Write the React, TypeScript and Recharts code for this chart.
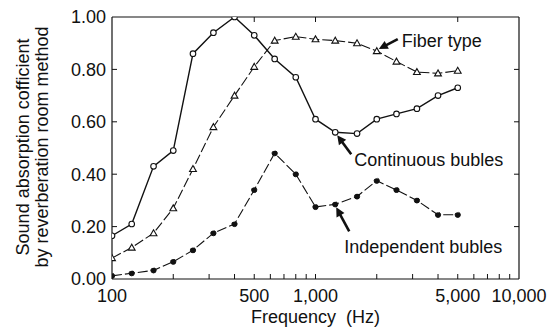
import { LineChart, Line, XAxis, YAxis, ReferenceDot } from "recharts";

// 1/3 octave band centre frequencies (Hz)
const freqs = [100, 125, 160, 200, 250, 315, 400, 500, 630, 800, 1000, 1250, 1600, 2000, 2500, 3150, 4000, 5000];
const continuous = [0.165, 0.21, 0.43, 0.49, 0.86, 0.94, 1.0, 0.93, 0.84, 0.77, 0.61, 0.56, 0.555, 0.61, 0.63, 0.65, 0.7, 0.73];
const fiber = [0.08, 0.12, 0.175, 0.27, 0.42, 0.58, 0.7, 0.81, 0.91, 0.925, 0.915, 0.91, 0.9, 0.87, 0.83, 0.79, 0.785, 0.795];
const independent = [0.012, 0.022, 0.033, 0.066, 0.11, 0.175, 0.21, 0.34, 0.48, 0.4, 0.275, 0.285, 0.315, 0.375, 0.34, 0.3, 0.245, 0.245];

const xTicks = [100, 500, 1000, 5000, 10000];
const minorTicks = [200, 300, 400, 500, 600, 700, 800, 900, 1000, 2000, 3000, 4000, 5000, 6000, 7000, 8000, 9000];
const topTicks = [500, 1000, 5000];
const yTicks = [0, 0.2, 0.4, 0.6, 0.8, 1];
const innerYTicks = [0.2, 0.4, 0.6, 0.8];

const data = freqs.map((f, i) => ({
  freq: f,
  continuous: continuous[i],
  fiber: fiber[i],
  independent: independent[i],
}));

const FONT = "'Liberation Sans', Arial, sans-serif";
const INK = "#111";

const fmtFreq = (v: number) => v.toLocaleString("en-US");
const blank = () => "";

function Triangle(props: any) {
  const { cx, cy, index } = props;
  if (cx == null || cy == null) return <g key={index} />;
  const s = 3.4;
  return (
    <polygon
      key={index}
      points={`${cx},${cy - s} ${cx - s},${cy + s * 0.75} ${cx + s},${cy + s * 0.75}`}
      fill="#fff"
      stroke={INK}
      strokeWidth={1.1}
    />
  );
}

function Callout(props: any) {
  const { cx, cy, head, tail, label, tx, ty } = props;
  if (cx == null || cy == null) return <g />;
  const hx = cx + head[0];
  const hy = cy + head[1];
  const sx = cx + tail[0];
  const sy = cy + tail[1];
  const len = Math.hypot(hx - sx, hy - sy);
  const ux = (hx - sx) / len;
  const uy = (hy - sy) / len;
  const L = 9;
  const W = 4.5;
  const bx = hx - ux * L;
  const by = hy - uy * L;
  return (
    <g>
      <line x1={sx} y1={sy} x2={bx + ux} y2={by + uy} stroke={INK} strokeWidth={2.6} />
      <polygon
        points={`${hx},${hy} ${bx - uy * W},${by + ux * W} ${bx + uy * W},${by - ux * W}`}
        fill={INK}
      />
      <text x={cx + tx} y={cy + ty} fontSize={18} fontFamily={FONT} fill={INK}>
        {label}
      </text>
    </g>
  );
}

function XLabel(props: any) {
  const vb = props.viewBox || {};
  return (
    <text
      x={vb.x + vb.width / 2}
      y={vb.y + 44}
      textAnchor="middle"
      fontSize={18}
      fontFamily={FONT}
      fill={INK}
      style={{ whiteSpace: "pre" }}
    >
      {"Frequency  (Hz)"}
    </text>
  );
}

function YLabel(props: any) {
  const vb = props.viewBox || {};
  const mid = vb.y + vb.height / 2 - 1;
  return (
    <text
      transform={`translate(0,${mid}) rotate(-90)`}
      textAnchor="middle"
      fontSize={18}
      fontFamily={FONT}
      fill={INK}
    >
      <tspan x={0} y={29}>Sound absorption cofficient</tspan>
      <tspan x={0} y={48}>by reverberation room method</tspan>
    </text>
  );
}

export default function App() {
  return (
    <div style={{ position: "absolute", left: 0, top: 0, background: "#fff" }}>
      <LineChart
        width={558}
        height={329}
        data={data}
        margin={{ top: 17, right: 39, bottom: 0, left: 52 }}
      >
        <XAxis
          dataKey="freq"
          type="number"
          scale="log"
          domain={[100, 10000]}
          allowDataOverflow
          ticks={xTicks}
          tickFormatter={fmtFreq}
          height={50}
          tickSize={0}
          tickMargin={10}
          tickLine={false}
          axisLine={{ stroke: INK, strokeWidth: 1.2 }}
          tick={{ fill: INK, fontSize: 18, fontFamily: FONT }}
          label={<XLabel />}
        />
        <XAxis
          xAxisId="minor"
          dataKey="freq"
          type="number"
          scale="log"
          domain={[100, 10000]}
          allowDataOverflow
          ticks={minorTicks}
          tickFormatter={blank}
          mirror
          height={10}
          tickSize={5}
          axisLine={false}
          tickLine={{ stroke: INK, strokeWidth: 1 }}
        />
        <XAxis
          xAxisId="top"
          orientation="top"
          dataKey="freq"
          type="number"
          scale="log"
          domain={[100, 10000]}
          allowDataOverflow
          ticks={topTicks}
          tickFormatter={blank}
          mirror
          height={10}
          tickSize={5}
          axisLine={{ stroke: INK, strokeWidth: 1.2 }}
          tickLine={{ stroke: INK, strokeWidth: 1 }}
        />
        <YAxis
          type="number"
          domain={[0, 1]}
          allowDataOverflow
          ticks={yTicks}
          tickFormatter={(v: number) => v.toFixed(2)}
          width={60}
          tickSize={0}
          tickMargin={6}
          tickLine={false}
          axisLine={{ stroke: INK, strokeWidth: 1.2 }}
          tick={{ fill: INK, fontSize: 18, fontFamily: FONT }}
          label={<YLabel />}
        />
        <YAxis
          yAxisId="leftInner"
          type="number"
          domain={[0, 1]}
          allowDataOverflow
          ticks={innerYTicks}
          tickFormatter={blank}
          mirror
          width={10}
          tickSize={5}
          axisLine={false}
          tickLine={{ stroke: INK, strokeWidth: 1 }}
        />
        <YAxis
          yAxisId="right"
          orientation="right"
          type="number"
          domain={[0, 1]}
          allowDataOverflow
          ticks={innerYTicks}
          tickFormatter={blank}
          mirror
          width={10}
          tickSize={5}
          axisLine={{ stroke: INK, strokeWidth: 1.2 }}
          tickLine={{ stroke: INK, strokeWidth: 1 }}
        />
        <Line
          dataKey="independent"
          stroke={INK}
          strokeWidth={1.1}
          strokeDasharray="10 3"
          dot={{ r: 2.6, fill: INK, stroke: INK, strokeWidth: 1 }}
          isAnimationActive={false}
        />
        <Line
          dataKey="fiber"
          stroke={INK}
          strokeWidth={1.1}
          strokeDasharray="10 3"
          dot={(p: any) => <Triangle key={p.index} {...p} />}
          isAnimationActive={false}
        />
        <Line
          dataKey="continuous"
          stroke={INK}
          strokeWidth={1.4}
          dot={{ r: 2.8, fill: "#fff", stroke: INK, strokeWidth: 1.1 }}
          isAnimationActive={false}
        />
        <ReferenceDot
          x={freqs[13]}
          y={fiber[13]}
          r={0}
          shape={(p: any) => (
            <Callout {...p} head={[2, -2]} tail={[21, -12]} tx={25} ty={-4} label="Fiber type" />
          )}
        />
        <ReferenceDot
          x={freqs[11]}
          y={continuous[11]}
          r={0}
          shape={(p: any) => (
            <Callout {...p} head={[2, 3]} tail={[16, 22]} tx={19} ty={34} label="Continuous bubles" />
          )}
        />
        <ReferenceDot
          x={freqs[11]}
          y={independent[11]}
          r={0}
          shape={(p: any) => (
            <Callout {...p} head={[1, 3]} tail={[14, 27]} tx={9} ty={49} label="Independent bubles" />
          )}
        />
      </LineChart>
    </div>
  );
}
